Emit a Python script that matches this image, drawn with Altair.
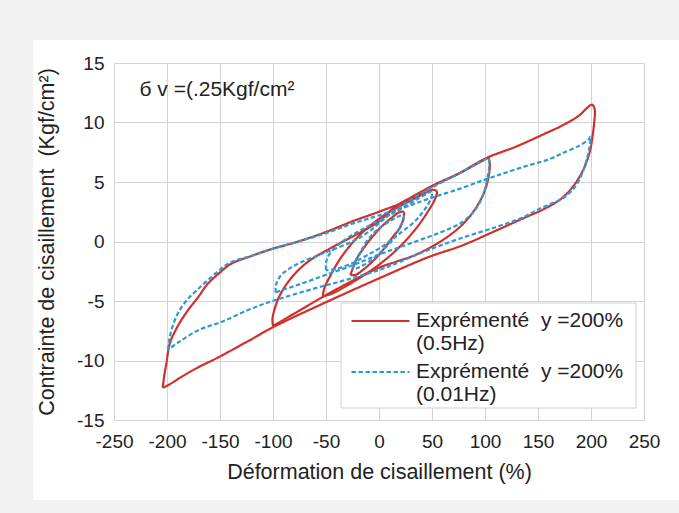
import altair as alt
import pandas as pd

# ---------------- data ----------------
SERIES = ["Exprémenté\u00a0 y =200%|(0.5Hz)", "Exprémenté\u00a0 y =200%|(0.01Hz)"]
COLORS = ["#d12f2c", "#2b9bd6"]

RED_200_X = [-204, -202.5, -200.5, -197.5, -191, -182, -170, -162, -150, -140, -120, -100, -78, -50, -25, 0, 28, 51, 75, 101, 130, 155, 174, 189, 196, 201, 203.5, 203, 202, 199, 192, 182, 172, 155, 136, 110, 78, 47, 0, -50, -100, -122, -153, -169, -185, -197.5, -204]
RED_200_Y = [-12.3, -11.2, -10.2, -8.6, -7.3, -6.0, -4.6, -3.6, -2.6, -1.9, -1.2, -0.6, -0.05, 0.8, 1.7, 2.5, 3.5, 4.7, 5.7, 7.0, 8.0, 9.0, 9.8, 10.6, 11.2, 11.5, 11.1, 10.0, 9.2, 7.6, 5.9, 4.5, 3.6, 2.7, 1.95, 0.9, -0.35, -1.3, -3.1, -5.1, -7.2, -8.3, -9.8, -10.5, -11.3, -12.0, -12.3]

RED_100_X = [-100, -100.5, -98.5, -94, -84, -68.5, -46.5, -21, 0, 15, 30, 51, 75, 98, 103, 104.5, 103.5, 99, 89, 76, 58, 35, 16, 0, -25, -50, -75, -100]
RED_100_Y = [-7.1, -6.5, -5.7, -4.6, -3.2, -1.8, -0.6, 0.6, 1.7, 2.9, 3.7, 4.7, 5.7, 6.8, 7.0, 6.5, 5.5, 4.1, 2.5, 1.2, 0.0, -1.1, -1.7, -2.2, -3.3, -4.5, -5.8, -7.1]

RED_50_X = [-53, -51.5, -46, -37, -22, -6, 10, 27, 42, 51, 54.5, 53, 46, 35, 20, 5, -12, -30, -45, -53]
RED_50_Y = [-4.6, -3.9, -2.9, -1.5, 0.2, 1.5, 2.5, 3.3, 4.0, 4.35, 4.2, 3.6, 2.5, 1.1, -0.4, -1.6, -2.7, -3.7, -4.4, -4.6]

RED_25_X = [-27, -24, -20, -14, -9, 3, 12, 19, 23, 23.5, 20, 14, 9, 3, -3, -10, -16, -22, -27]
RED_25_Y = [-2.8, -2.1, -1.3, -0.5, 0.1, 1.3, 2.0, 2.45, 2.5, 2.1, 1.2, 0.5, -0.1, -0.8, -1.4, -2.0, -2.45, -2.8, -2.8]

BLUE_200_X = [-199, -198, -195, -189, -180, -172, -157, -141, -120, -100, -78, -50, -25, 0, 25, 47, 75, 100, 120, 141, 160, 175, 190, 198, 199.5, 198.5, 196, 192, 185, 173, 160, 148, 135, 110, 78, 47, 20, 0, -30, -59, -97, -122, -147, -169, -188, -199]
BLUE_200_Y = [-9.1, -8.3, -7.2, -5.9, -4.8, -4.1, -2.9, -1.8, -1.2, -0.6, -0.05, 0.7, 1.5, 2.2, 2.9, 3.6, 4.4, 5.2, 5.8, 6.4, 6.9, 7.5, 8.1, 8.6, 8.8, 7.9, 6.9, 5.8, 4.6, 3.6, 3.1, 2.6, 2.0, 1.2, 0.3, -0.7, -1.7, -2.4, -3.2, -3.9, -4.9, -5.7, -6.7, -7.4, -8.4, -9.1]

BLUE_100_X = [-97.5, -97, -93, -85, -75, -50, -25, -10, 5, 20, 35, 51, 75, 98, 103, 104, 103, 99, 91, 78, 62, 47, 25, 0, -25, -50, -75, -92, -97.5]
BLUE_100_Y = [-4.3, -3.6, -2.9, -2.3, -1.8, -0.9, 0.0, 0.8, 1.9, 2.9, 3.8, 4.6, 5.7, 6.8, 7.0, 6.5, 5.7, 4.1, 2.7, 1.6, 0.9, 0.4, -0.3, -1.1, -2.0, -2.8, -3.6, -4.1, -4.3]

BLUE_50_X = [-50, -50, -47, -40, -28, -12, 5, 20, 35, 47, 50, 49, 44, 35, 20, 5, -10, -25, -40, -50]
BLUE_50_Y = [-2.4, -1.8, -1.1, -0.4, 0.4, 1.2, 2.0, 2.7, 3.5, 4.1, 4.2, 3.6, 2.8, 1.8, 0.7, -0.3, -1.1, -1.8, -2.3, -2.4]

BLUE_25_X = [-25, -22, -17, -10, 0, 10, 18, 23, 23, 20, 15, 5, -5, -15, -21, -25]
BLUE_25_Y = [-2.3, -1.6, -0.8, 0.2, 1.1, 1.7, 2.1, 2.2, 1.8, 1.3, 0.4, -0.6, -1.4, -2.0, -2.25, -2.3]

X_TICKS = [-250, -200, -150, -100, -50, 0, 50, 100, 150, 200, 250]
Y_TICKS = [-15, -10, -5, 0, 5, 10, 15]

X_TITLE = "Déformation de cisaillement (%)"
Y_TITLE = "Contrainte de cisaillement\u00a0 (Kgf/cm²)"
ANNOT_TEXT = "б v =(.25Kgf/cm²"
ANNOT_X = -226
ANNOT_Y = 12.7

# ---------------- table ----------------
loops = [
    (SERIES[0], "r200", RED_200_X, RED_200_Y),
    (SERIES[0], "r100", RED_100_X, RED_100_Y),
    (SERIES[0], "r50", RED_50_X, RED_50_Y),
    (SERIES[0], "r25", RED_25_X, RED_25_Y),
    (SERIES[1], "b200", BLUE_200_X, BLUE_200_Y),
    (SERIES[1], "b100", BLUE_100_X, BLUE_100_Y),
    (SERIES[1], "b50", BLUE_50_X, BLUE_50_Y),
    (SERIES[1], "b25", BLUE_25_X, BLUE_25_Y),
]
rows = []
for serie, lid, xs, ys in loops:
    for i, (xv, yv) in enumerate(zip(xs, ys)):
        rows.append({"serie": serie, "loop": lid, "i": i, "x": xv, "y": yv})
df = pd.DataFrame(rows)

FONT = "Liberation Sans"
W, H = 530, 357

legend = alt.Legend(
    title=None, orient="none", legendX=236, legendY=240, direction="vertical",
    labelExpr="split(datum.label, '|')", labelBaseline="middle",
    labelFont=FONT, labelFontSize=21, labelColor="#222222", labelLimit=400,
    symbolType="stroke", symbolSize=3364, symbolStrokeWidth=2.2, labelOffset=5,
    padding=0, rowPadding=0, clipHeight=36,
)

lines = alt.Chart(df).mark_line(interpolate="catmull-rom", strokeWidth=2.2).encode(
    x=alt.X("x:Q", scale=alt.Scale(domain=[-250, 250], nice=False),
            axis=alt.Axis(values=X_TICKS, title=X_TITLE,
                          labelExpr="'' + datum.value", labelFlush=False,
                          labelOverlap=False, labelPadding=12, titlePadding=10)),
    y=alt.Y("y:Q", scale=alt.Scale(domain=[-15, 15], nice=False),
            axis=alt.Axis(values=Y_TICKS, title=Y_TITLE,
                          labelExpr="'' + datum.value", labelFlush=False,
                          labelOverlap=False, labelPadding=10, titlePadding=18)),
    color=alt.Color("serie:N", scale=alt.Scale(domain=SERIES, range=COLORS), legend=legend),
    strokeDash=alt.StrokeDash("serie:N", scale=alt.Scale(domain=SERIES, range=[[1, 0], [4.5, 2.5]]), legend=legend),
    detail="loop:N",
    order="i:Q",
)

annot = alt.Chart(alt.Data(values=[{"x": ANNOT_X, "y": ANNOT_Y, "t": ANNOT_TEXT}])).mark_text(
    align="left", baseline="middle", font=FONT, fontSize=21, color="#222222"
).encode(x="x:Q", y="y:Q", text="t:N")

# light grey page margin around the white card
card = alt.Chart(alt.Data(values=[{}])).mark_rect(
    fillOpacity=0, stroke="#f2f2f2", strokeWidth=100
).encode(x=alt.value(-131), x2=alt.value(700), y=alt.value(-73), y2=alt.value(487))

# white legend frame (covers the grid behind the legend)
legend_box = alt.Chart(alt.Data(values=[{}])).mark_rect(
    fill="white", stroke="#cfcfcf", strokeWidth=1
).encode(x=alt.value(227), x2=alt.value(522), y=alt.value(240), y2=alt.value(345))

chart = alt.layer(card, legend_box, lines, annot).properties(
    width=W, height=H,
    autosize=alt.AutoSizeParams(type="none"),
    padding={"left": 114, "top": 63, "right": 35, "bottom": 93},
    background="white",
).configure_axis(
    grid=True, gridColor="#d4d4d4", gridWidth=1, domain=False, ticks=False,
    labelFont=FONT, labelFontSize=19, labelColor="#222222",
    titleFont=FONT, titleFontSize=21.5, titleColor="#222222", titleFontWeight="normal",
).configure_view(stroke=None)

chart.save("out.html", embed_options={"renderer": "svg", "actions": False})
